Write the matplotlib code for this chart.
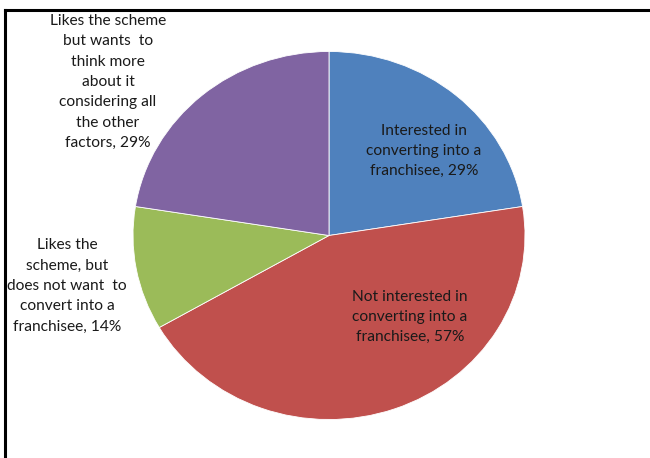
import matplotlib
matplotlib.use("Agg")
import matplotlib.pyplot as plt
from matplotlib.lines import Line2D

categories = [
    "Interested in\nconverting into a\nfranchisee",
    "Not interested in\nconverting into a\nfranchisee",
    "Likes the\nscheme, but\ndoes not want  to\nconvert into a\nfranchisee",
    "Likes the scheme\nbut wants  to\nthink more\nabout it\nconsidering all\nthe other\nfactors",
]
values = [29, 57, 14, 29]
colors = ["#4F81BD", "#C0504D", "#9BBB59", "#8064A2"]

W, H = 650, 458
fig = plt.figure(figsize=(W / 100, H / 100), dpi=100)
fig.patch.set_facecolor("white")

cx, cy, rx, ry = 329, 235.5, 196, 184
ax = fig.add_axes([(cx - rx) / W, (H - cy - ry) / H, 2 * rx / W, 2 * ry / H])
ax.pie(values, colors=colors, startangle=90, counterclock=False, radius=1,
       wedgeprops=dict(edgecolor="white", linewidth=0.6))
ax.set_aspect("auto")
ax.set_xlim(-1, 1)
ax.set_ylim(-1, 1)
ax.axis("off")

# label positions in pixel coordinates (center of text block)
label_pos = [(424, 151), (410, 317), (67, 286), (108, 82)]
for cat, v, (x, y) in zip(categories, values, label_pos):
    fig.text(x / W, 1 - y / H, f"{cat}, {v}%", ha="center", va="center",
             fontsize=11.2, family="Lato", color="#1a1a1a", linespacing=1.57)

# frame lines (top and left)
fig.add_artist(Line2D([5 / W, 1], [1 - 10 / H, 1 - 10 / H], transform=fig.transFigure,
                      color="black", linewidth=2.2))
fig.add_artist(Line2D([5 / W, 5 / W], [0, 1 - 10 / H], transform=fig.transFigure,
                      color="black", linewidth=2.2))

fig.savefig("out.png", dpi=100, facecolor="white")
